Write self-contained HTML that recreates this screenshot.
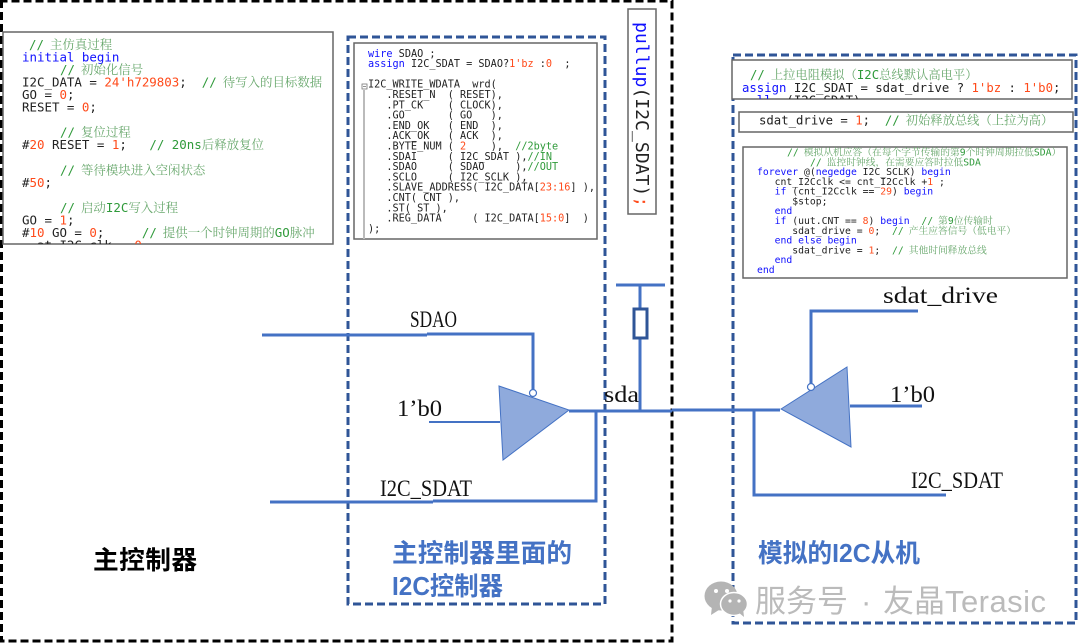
<!DOCTYPE html>
<html><head><meta charset="utf-8">
<style>
html,body{margin:0;padding:0;background:#fff;width:1080px;height:644px;overflow:hidden}
svg{display:block}
text{white-space:pre}
.m{font-family:"DejaVu Sans Mono","Liberation Mono","Noto Sans CJK SC",monospace;fill:#222}
.a{font-size:12.45px}.b{font-size:10.2px}.d{font-size:12.3px}.e{font-size:9.75px}
.k{fill:#1010ff}.n{fill:#ff4a1a}
.c2{fill:#2f9a3a}
.g{fill:#69a86d;font-family:"Noto Serif CJK SC",serif}
.l{font-family:"Liberation Serif","Noto Serif CJK SC",serif;fill:#111;font-size:23px}
.t{font-family:"Liberation Sans","Noto Sans CJK SC",sans-serif;font-weight:700;fill:#4472c4;font-size:25.7px}
.box{fill:#fff;stroke:#666;stroke-width:1.5}
.w{fill:none;stroke:#4472c4;stroke-width:3}
.wm{font-family:'Liberation Sans','Noto Sans CJK SC',sans-serif;font-size:31px;fill:#bbb}
</style></head><body>
<svg width="1080" height="644" viewBox="0 0 1080 644" xmlns="http://www.w3.org/2000/svg">
<defs>
<clipPath id="c1"><rect x="3" y="32" width="330" height="212"/></clipPath>
<clipPath id="c2"><rect x="732" y="60" width="340" height="39"/></clipPath>
</defs>
<rect width="1080" height="644" fill="#fff"/>

<!-- outer black dashed -->
<path d="M1.5 0V641H672V1H0" fill="none" stroke="#000" stroke-width="3" stroke-dasharray="8 4"/>
<!-- blue dashed -->
<rect x="348" y="37" width="257" height="567" fill="none" stroke="#2f5597" stroke-width="3" stroke-dasharray="8 4"/>
<rect x="733" y="55" width="343" height="568" fill="none" stroke="#2f5597" stroke-width="3" stroke-dasharray="8 4"/>

<!-- left code -->
<rect class="box" x="3" y="32" width="330" height="212"/>
<g class="m a" clip-path="url(#c1)">
<text x="29" y="49"><tspan class="c2">//</tspan><tspan class="g" dx="6">主仿真过程</tspan></text>
<text x="22" y="61.5" class="k">initial begin</text>
<text x="60" y="74"><tspan class="c2">//</tspan><tspan class="g" dx="6">初始化信号</tspan></text>
<text x="22" y="86.5">I2C_DATA = <tspan class="n">24'h729803</tspan>;  <tspan class="c2">//</tspan><tspan class="g" dx="6">待写入的目标数据</tspan></text>
<text x="22" y="99">GO = <tspan class="n">0</tspan>;</text>
<text x="22" y="111.5">RESET = <tspan class="n">0</tspan>;</text>
<text x="60" y="136.5"><tspan class="c2">//</tspan><tspan class="g" dx="6">复位过程</tspan></text>
<text x="22" y="149">#<tspan class="n">20</tspan> RESET = <tspan class="n">1</tspan>;   <tspan class="c2">// 20ns</tspan><tspan class="g">后释放复位</tspan></text>
<text x="60" y="174.5"><tspan class="c2">//</tspan><tspan class="g" dx="6">等待模块进入空闲状态</tspan></text>
<text x="22" y="187">#<tspan class="n">50</tspan>;</text>
<text x="60" y="212"><tspan class="c2">//</tspan><tspan class="g" dx="6">启动</tspan><tspan class="c2">I2C</tspan><tspan class="g">写入过程</tspan></text>
<text x="22" y="224.5">GO = <tspan class="n">1</tspan>;</text>
<text x="22" y="237">#<tspan class="n">10</tspan> GO = <tspan class="n">0</tspan>;     <tspan class="c2">//</tspan><tspan class="g" dx="6">提供一个时钟周期的</tspan><tspan class="c2">GO</tspan><tspan class="g">脉冲</tspan></text>
<text x="22" y="249.5">  at I2C_clk   <tspan class="n">0</tspan></text>
</g>

<!-- middle code -->
<rect class="box" x="354" y="43" width="243" height="196"/>
<rect x="363" y="90" width="2" height="149" fill="#bbb"/>
<rect x="362" y="84" width="5" height="5" fill="#fff" stroke="#777" stroke-width=".8"/>
<path d="M363 86.5h3" stroke="#777" stroke-width=".8"/>
<g class="m b">
<text x="368" y="57"><tspan class="k">wire</tspan> SDAO ;</text>
<text x="368" y="67"><tspan class="k">assign</tspan> I2C_SDAT = SDAO?<tspan class="n">1'bz</tspan> :<tspan class="n">0</tspan>  ;</text>
<text x="368" y="87.5">I2C_WRITE_WDATA  wrd(</text>
<text x="368" y="98">   .RESET_N  ( RESET),</text>
<text x="368" y="108.3">   .PT_CK    ( CLOCK),</text>
<text x="368" y="118.6">   .GO       ( GO   ),</text>
<text x="368" y="128.9">   .END_OK   ( END  ),</text>
<text x="368" y="139.2">   .ACK_OK   ( ACK  ),</text>
<text x="368" y="149.5">   .BYTE_NUM ( <tspan class="n">2</tspan>    ),  <tspan class="c2">//2byte</tspan></text>
<text x="368" y="159.8">   .SDAI     ( I2C_SDAT ),<tspan class="c2">//IN</tspan></text>
<text x="368" y="170.1">   .SDAO     ( SDAO     ),<tspan class="c2">//OUT</tspan></text>
<text x="368" y="180.4">   .SCLO     ( I2C_SCLK ),</text>
<text x="368" y="190.7">   .SLAVE_ADDRESS( I2C_DATA[<tspan class="n">23:16</tspan>] ),</text>
<text x="368" y="201">   .CNT( CNT ),</text>
<text x="368" y="211.3">   .ST( ST ),</text>
<text x="368" y="221.6">   .REG_DATA     ( I2C_DATA[<tspan class="n">15:0</tspan>]  )</text>
<text x="368" y="231.9">);</text>
</g>

<!-- pullup -->
<rect class="box" x="628" y="9" width="28" height="205"/>
<text class="m" style="font-size:18.1px" transform="translate(636,22) rotate(90)"><tspan class="k">pullup</tspan>(I2C_SDAT)<tspan class="n">;</tspan></text>

<!-- right code -->
<rect class="box" x="732" y="60" width="340" height="39"/>
<g class="m d" clip-path="url(#c2)">
<text x="750" y="79"><tspan class="c2">//</tspan><tspan class="g" dx="6">上拉电阻模拟（</tspan><tspan class="c2">I2C</tspan><tspan class="g">总线默认高电平）</tspan></text>
<text x="742" y="92"><tspan class="k">assign</tspan> I2C_SDAT = sdat_drive ? <tspan class="n">1'bz</tspan> : <tspan class="n">1'b0</tspan>;</text>
<text x="742" y="104.5" class="k">  ll  <tspan style="fill:#222">(I2C_SDAT)</tspan></text>
</g>
<rect class="box" x="739" y="112" width="334" height="20"/>
<text class="m d" x="759" y="124.5">sdat_drive = <tspan class="n">1</tspan>;  <tspan class="c2">//</tspan><tspan class="g" dx="6">初始释放总线（上拉为高）</tspan></text>

<rect class="box" x="743" y="147" width="324" height="131"/>
<g class="m e">
<text x="787" y="155.5"><tspan class="c2">//</tspan><tspan class="g" dx="5">模拟从机应答（在每个字节传输的第</tspan><tspan class="c2">9</tspan><tspan class="g">个时钟周期拉低</tspan><tspan class="c2">SDA</tspan><tspan class="g">）</tspan></text>
<text x="810" y="165.3"><tspan class="c2">//</tspan><tspan class="g" dx="5">监控时钟线，在需要应答时拉低</tspan><tspan class="c2">SDA</tspan></text>
<text x="757" y="175"><tspan class="k">forever</tspan> @(<tspan class="k">negedge</tspan> I2C_SCLK) <tspan class="k">begin</tspan></text>
<text x="757" y="184.8">   cnt_I2Cclk &lt;= cnt_I2Cclk +<tspan class="n">1</tspan> ;</text>
<text x="757" y="194.6">   <tspan class="k">if</tspan> (cnt_I2Cclk == <tspan class="n">29</tspan>) <tspan class="k">begin</tspan></text>
<text x="757" y="204.4">      $stop;</text>
<text x="757" y="214.2" class="k">   end</text>
<text x="757" y="224"><tspan class="k">   if</tspan> (uut.CNT == <tspan class="n">8</tspan>) <tspan class="k">begin</tspan>  <tspan class="c2">//</tspan><tspan class="g" dx="5">第</tspan><tspan class="c2">9</tspan><tspan class="g">位传输时</tspan></text>
<text x="757" y="233.8">      sdat_drive = <tspan class="n">0</tspan>;  <tspan class="c2">//</tspan><tspan class="g" dx="5">产生应答信号（低电平）</tspan></text>
<text x="757" y="243.6" class="k">   end else begin</text>
<text x="757" y="253.4">      sdat_drive = <tspan class="n">1</tspan>;  <tspan class="c2">//</tspan><tspan class="g" dx="5">其他时间释放总线</tspan></text>
<text x="757" y="263.2" class="k">   end</text>
<text x="757" y="273" class="k">end</text>
</g>

<!-- circuit left -->
<path class="w" d="M262 335H427M427 334H533V389"/>
<path class="w" d="M270 502H433M433 501H596V411"/>
<path d="M429 422H500" fill="none" stroke="#4472c4" stroke-width="2"/>
<path class="w" d="M569 411H672M672 410H780"/>
<path class="w" d="M640 285V410M616 285H665"/>
<rect x="634" y="309" width="13" height="29" fill="#fff" stroke="#2f5597" stroke-width="3"/>
<polygon points="499,386 569,410 503,460" fill="#8faadc" stroke="#4472c4" stroke-width="1"/>
<circle cx="533" cy="393" r="3.5" fill="#fff" stroke="#4472c4" stroke-width="1.2"/>

<!-- circuit right -->
<path class="w" d="M811 384V311H918"/>
<path class="w" d="M850 406H922"/>
<path class="w" d="M754 410V495H946"/>
<polygon points="781,409 847,367 851,447" fill="#8faadc" stroke="#4472c4" stroke-width="1"/>
<circle cx="811" cy="387" r="3.5" fill="#fff" stroke="#4472c4" stroke-width="1.2"/>

<!-- labels -->
<text class="l" x="410" y="327" textLength="47" lengthAdjust="spacingAndGlyphs">SDAO</text>
<text class="l" x="397" y="416" textLength="45" lengthAdjust="spacingAndGlyphs">1’b0</text>
<text class="l" x="380" y="496" textLength="92" lengthAdjust="spacingAndGlyphs">I2C_SDAT</text>
<text class="l" x="604" y="402" textLength="35" lengthAdjust="spacingAndGlyphs">sda</text>
<text class="l" x="883" y="303" textLength="115" lengthAdjust="spacingAndGlyphs">sdat_drive</text>
<text class="l" x="890" y="402" textLength="45" lengthAdjust="spacingAndGlyphs">1’b0</text>
<text class="l" x="911" y="488" textLength="92" lengthAdjust="spacingAndGlyphs">I2C_SDAT</text>

<text class="t" x="93" y="569" style="fill:#000" textLength="104">主控制器</text>
<text class="t" x="392" y="562" textLength="180">主控制器里面的</text>
<text class="t" x="392" y="595" textLength="111" lengthAdjust="spacingAndGlyphs">I2C控制器</text>
<text class="t" x="758" y="562" textLength="162" lengthAdjust="spacingAndGlyphs">模拟的I2C从机</text>

<!-- watermark -->
<g fill="#b4b4b4">
<ellipse cx="721" cy="596" rx="16.5" ry="14.5"/>
<polygon points="712,606 711,615 722,608"/>
<ellipse cx="734" cy="604" rx="13.5" ry="11.5" stroke="#fff" stroke-width="1.5"/>
<polygon points="738,612 744,617 743,608"/>
<circle cx="716" cy="591" r="2" fill="#fff"/><circle cx="727" cy="591" r="2" fill="#fff"/>
<circle cx="730" cy="601" r="1.6" fill="#fff"/><circle cx="739" cy="601" r="1.6" fill="#fff"/>
</g>
<text class="wm" x="755" y="612" textLength="93">服务号</text>
<text class="wm" x="861" y="612">·</text>
<text class="wm" x="883" y="612" textLength="62">友晶</text>
<text class="wm" x="945" y="612" textLength="101">Terasic</text>
</svg>
</body></html>
